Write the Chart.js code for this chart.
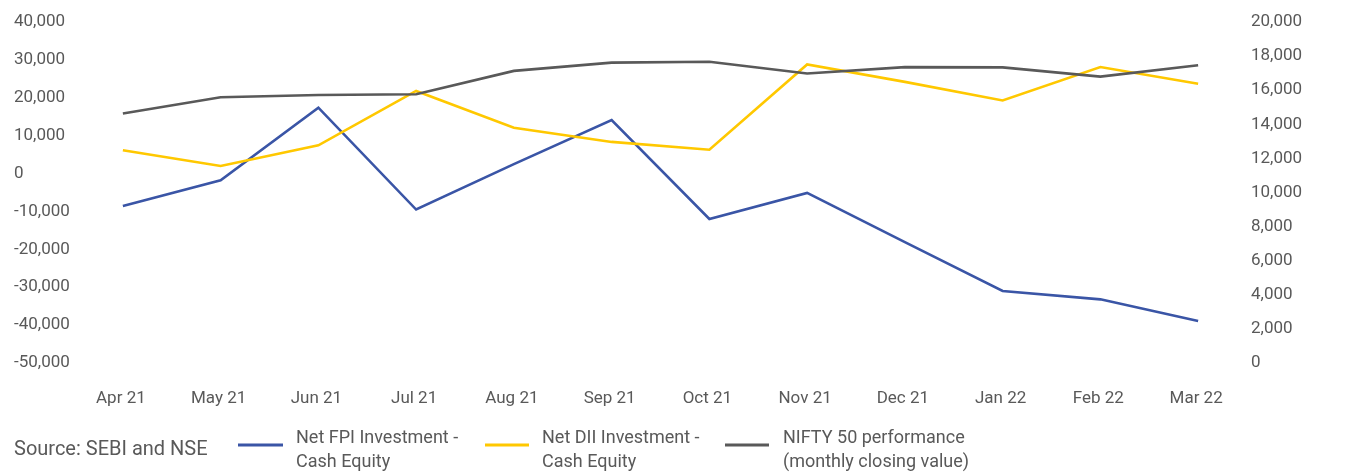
<!DOCTYPE html>
<html>
<head>
<meta charset="utf-8">
<script src="https://cdn.jsdelivr.net/npm/chart.js@4.4.1/dist/chart.umd.min.js"></script>
<style>
  html, body { margin: 0; padding: 0; background: #ffffff; }
  #wrap { width: 1359px; height: 473px; position: relative; }
</style>
</head>
<body>
<div id="wrap"><canvas id="chart" width="1359" height="473"></canvas></div>
<script>
// Monthly categories, FY 2021-22
const months = ['Apr 21', 'May 21', 'Jun 21', 'Jul 21', 'Aug 21', 'Sep 21',
                'Oct 21', 'Nov 21', 'Dec 21', 'Jan 22', 'Feb 22', 'Mar 22'];

// Net FPI investment in cash equity (Rs crore)
const fpiNet = [-8550, -1800, 17400, -9500, 2500, 14100,
                -12000, -5100, -18100, -31000, -33200, -38900];

// Net DII investment in cash equity (Rs crore)
const diiNet = [6150, 2000, 7450, 21800, 12100, 8350,
                6300, 28800, 24200, 19300, 28100, 23700];

// NIFTY 50 monthly closing value
const niftyClose = [14631, 15583, 15721, 15763, 17132, 17618,
                    17672, 16983, 17354, 17340, 16794, 17465];

// Series names as shown in the legend (two lines each)
const seriesNames = [
  ['Net FPI Investment -', 'Cash Equity'],
  ['Net DII Investment -', 'Cash Equity'],
  ['NIFTY 50 performance', '(monthly closing value)']
];

const sourceNote = 'Source: SEBI and NSE';

const TEXT = '#595959';
const FONT = 'Roboto, "Liberation Sans", sans-serif';

// Legend and source note drawn beneath the plot
const footerLegend = {
  id: 'footerLegend',
  afterDraw(chart) {
    const ctx = chart.ctx;
    ctx.save();
    ctx.fillStyle = TEXT;
    ctx.textAlign = 'left';
    ctx.textBaseline = 'alphabetic';
    ctx.font = '20px ' + FONT;
    ctx.fillText(sourceNote, 14, 455);

    const entries = [
      { x1: 238, x2: 283, tx: 296 },
      { x1: 485, x2: 529, tx: 542 },
      { x1: 725, x2: 769, tx: 783 }
    ];
    ctx.font = '18px ' + FONT;
    chart.data.datasets.forEach((ds, i) => {
      const e = entries[i];
      ctx.strokeStyle = ds.borderColor;
      ctx.lineWidth = 3;
      ctx.beginPath();
      ctx.moveTo(e.x1, 445);
      ctx.lineTo(e.x2, 445);
      ctx.stroke();
      ctx.fillStyle = TEXT;
      const lines = ds.label;
      ctx.fillText(lines[0], e.tx, 443);
      ctx.fillText(lines[1], e.tx, 466.5);
    });
    ctx.restore();
  }
};

new Chart(document.getElementById('chart'), {
  type: 'line',
  data: {
    labels: months,
    datasets: [
      {
        label: seriesNames[0],
        data: fpiNet,
        borderColor: '#3a55a6',
        borderWidth: 2.6,
        yAxisID: 'y',
        order: 2
      },
      {
        label: seriesNames[1],
        data: diiNet,
        borderColor: '#ffc800',
        borderWidth: 2.6,
        yAxisID: 'y',
        order: 1
      },
      {
        label: seriesNames[2],
        data: niftyClose,
        borderColor: '#595959',
        borderWidth: 2.6,
        yAxisID: 'y1',
        order: 0
      }
    ]
  },
  options: {
    responsive: false,
    animation: false,
    events: [],
    elements: {
      line: { tension: 0, borderCapStyle: 'butt', borderJoinStyle: 'miter' },
      point: { radius: 0 }
    },
    layout: { padding: { left: 14, top: 22, right: 0, bottom: 0 } },
    plugins: {
      legend: { display: false },
      tooltip: { enabled: false }
    },
    scales: {
      x: {
        offset: true,
        grid: { display: false, drawTicks: false },
        border: { display: false },
        ticks: {
          color: TEXT,
          font: { family: FONT, size: 17 },
          padding: 26,
          labelOffset: -2,
          maxRotation: 0,
          autoSkip: false
        },
        afterFit(scale) { scale.height = 110; }
      },
      y: {
        position: 'left',
        min: -50000,
        max: 40000,
        grid: { display: false, drawTicks: false },
        border: { display: false },
        ticks: {
          stepSize: 10000,
          color: TEXT,
          font: { family: FONT, size: 17 },
          crossAlign: 'far',
          padding: 4
        },
        afterFit(scale) { scale.width = 60; }
      },
      y1: {
        position: 'right',
        min: 0,
        max: 20000,
        grid: { display: false, drawTicks: false },
        border: { display: false },
        ticks: {
          stepSize: 2000,
          color: TEXT,
          font: { family: FONT, size: 17 },
          crossAlign: 'near',
          padding: 4
        },
        afterFit(scale) { scale.width = 112; }
      }
    }
  },
  plugins: [footerLegend]
});
</script>
</body>
</html>
